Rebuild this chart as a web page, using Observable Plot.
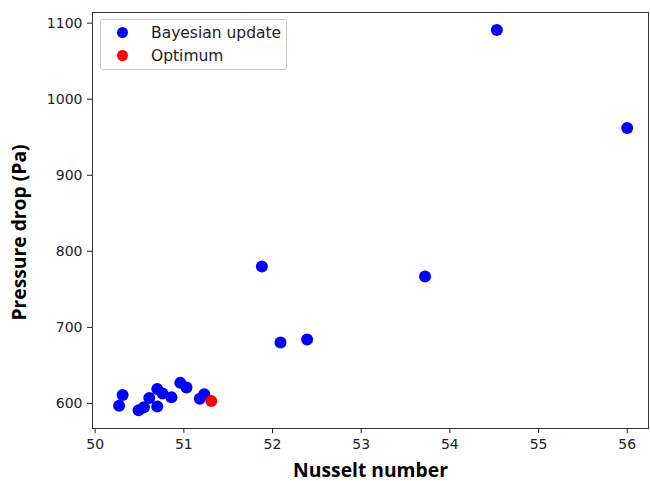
<!DOCTYPE html>
<html><head><meta charset="utf-8">
<script src="https://cdn.jsdelivr.net/npm/d3@7"></script>
<script src="https://cdn.jsdelivr.net/npm/@observablehq/plot@0.6"></script>
<style>
body{margin:0;background:#fff;}
#wrap{position:relative;width:650px;height:481px;}
g[aria-label="x-axis label"] text, g[aria-label="y-axis label"] text{font-family:"Open Sans",sans-serif;font-weight:bold;font-size:19.3px;fill:#000;}
#legend{position:absolute;left:100px;top:19px;width:187px;height:51px;border:1px solid #ccc;border-radius:3px;background:rgba(255,255,255,0.8);font:15.5px "DejaVu Sans",sans-serif;color:#222;box-sizing:border-box;}
#legend div{position:absolute;left:0;height:20px;line-height:20px;white-space:nowrap;}
#legend span.d{position:absolute;left:16px;top:4px;width:11px;height:11px;border-radius:50%;}
#legend span.t{position:absolute;left:50px;top:0;}
</style></head><body>
<div id="wrap"></div>
<script>
const bayesNu = [54.53, 56.0, 51.88, 53.72, 52.09, 52.39, 50.31, 50.27, 50.49, 50.55, 50.61, 50.70, 50.70, 50.76, 50.86, 50.96, 51.03, 51.18, 51.23];
const bayesDp = [1091, 962, 780, 767, 680, 684, 611, 597, 591, 595, 607, 596, 619, 613, 608, 627, 621, 606, 612];
const optNu = [51.31];
const optDp = [603];
const xTicks = [50, 51, 52, 53, 54, 55, 56];
const yTicks = [600, 700, 800, 900, 1000, 1100];
const seriesNames = ["Bayesian update", "Optimum"];
const seriesColors = ["#0000ff", "#ff0000"];

const bayes = bayesNu.map((x, i) => ({x, y: bayesDp[i]}));
const opt = optNu.map((x, i) => ({x, y: optDp[i]}));

const chart = Plot.plot({
  width: 650, height: 481,
  marginLeft: 92, marginRight: 2, marginTop: 12, marginBottom: 53,
  style: {fontFamily: "DejaVu Sans, sans-serif", fontSize: "14px", color: "#222", background: "#fff"},
  x: {domain: [49.97, 56.24]},
  y: {domain: [567, 1114]},
  marks: [
    Plot.axisX({ticks: xTicks, tickSize: 5, tickPadding: 6, fontSize: 14, tickFormat: d => String(d), label: "Nusselt number", labelAnchor: "center", labelArrow: "none", labelOffset: 48}),
    Plot.axisY({ticks: yTicks, tickSize: 5, tickPadding: 5, fontSize: 14, tickFormat: d => String(d), label: "Pressure drop (Pa)", labelAnchor: "center", labelArrow: "none", labelOffset: 80}),
    Plot.dot(bayes, {x: "x", y: "y", r: 6, fill: seriesColors[0], stroke: null}),
    Plot.dot(opt, {x: "x", y: "y", r: 6, fill: seriesColors[1], stroke: null}),
    Plot.frame({stroke: "#333", strokeWidth: 1})
  ]
});
const wrap = document.getElementById("wrap");
wrap.appendChild(chart);
const yl = chart.querySelector('g[aria-label="y-axis label"] text');
if (yl) yl.setAttribute("dx", "-12");
const lg = document.createElement("div");
lg.id = "legend";
seriesNames.forEach((n, i) => {
  const row = document.createElement("div");
  row.style.top = (3 + i * 23) + "px";
  row.style.width = "100%";
  row.innerHTML = `<span class="d" style="background:${seriesColors[i]}"></span><span class="t">${n}</span>`;
  lg.appendChild(row);
});
wrap.appendChild(lg);
</script></body></html>
